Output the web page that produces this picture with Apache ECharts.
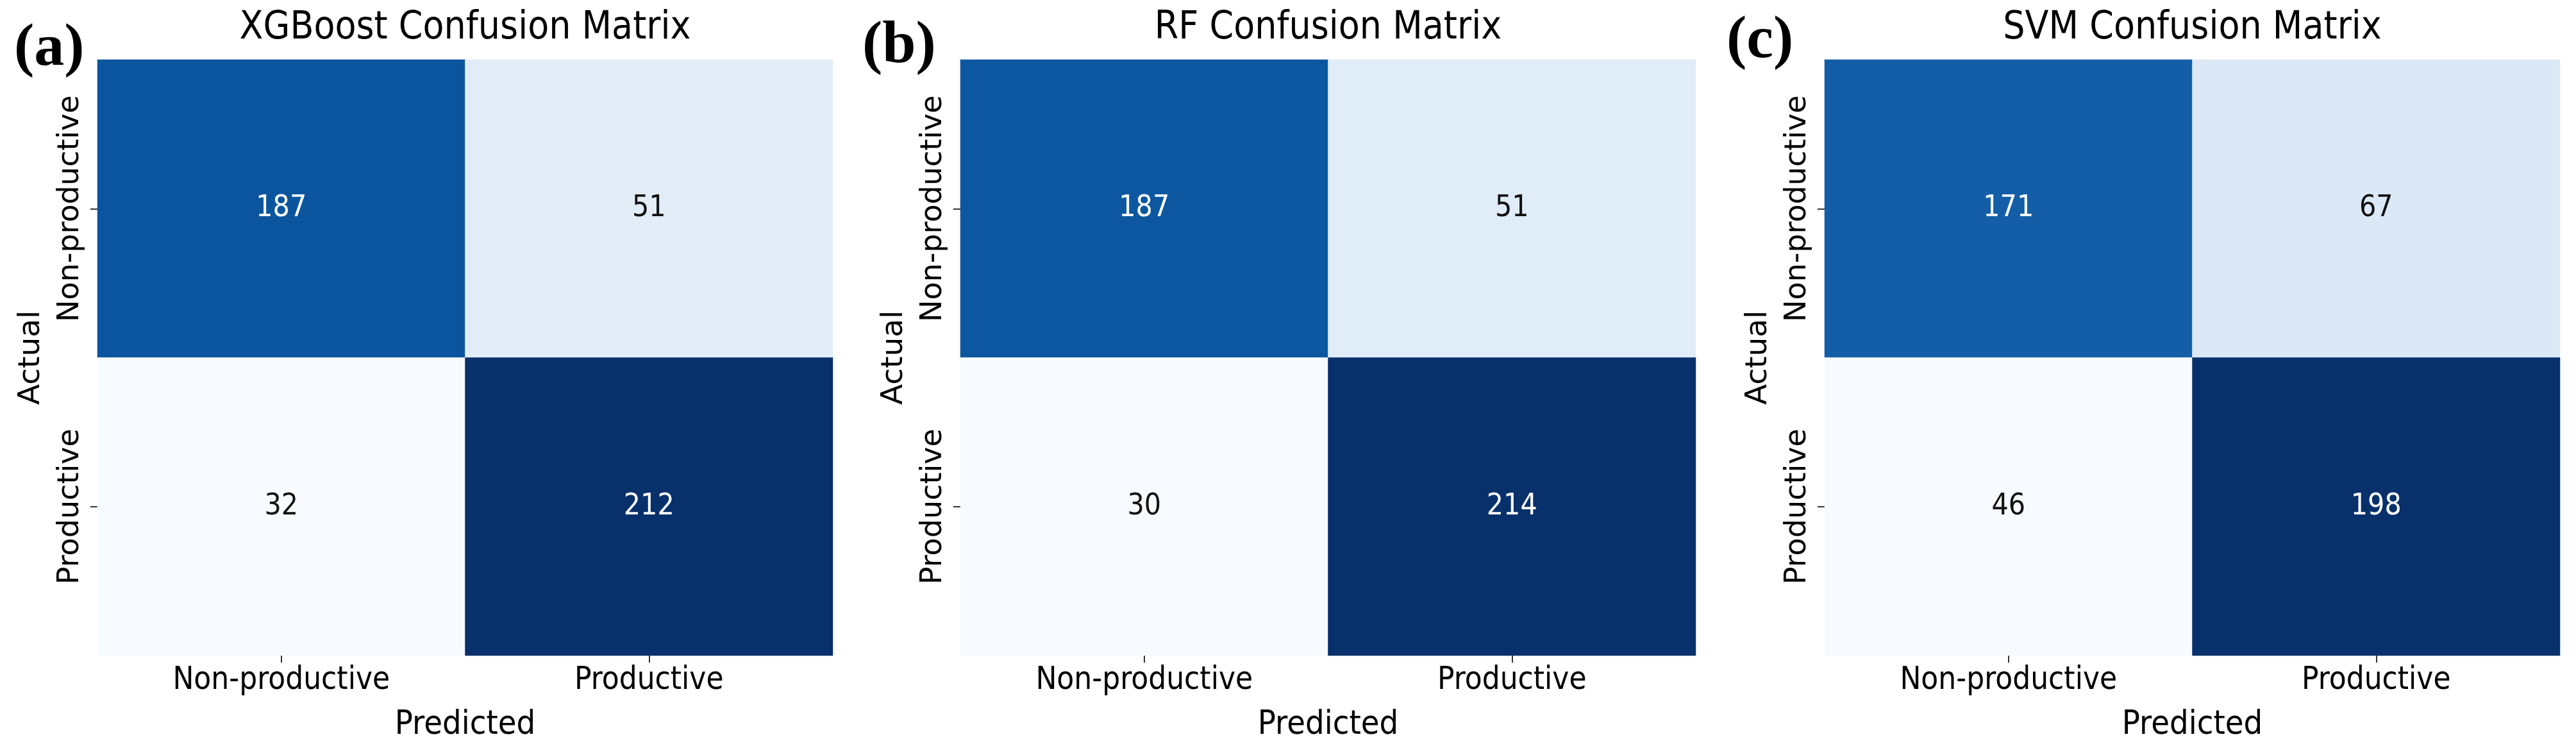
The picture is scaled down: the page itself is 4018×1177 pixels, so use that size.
<!DOCTYPE html>
<html>
<head>
<meta charset="utf-8">
<script src="https://cdn.jsdelivr.net/npm/echarts@6/dist/echarts.min.js"></script>
<style>
html,body{margin:0;padding:0;background:#fff;}
#chart{width:4018px;height:1177px;}
</style>
</head>
<body>
<div id="chart"></div>
<script>
// ---- data ----
const categories = ['Non-productive', 'Productive'];
const panelLabels = ['(a)', '(b)', '(c)'];
const panelTitles = ['XGBoost Confusion Matrix', 'RF Confusion Matrix', 'SVM Confusion Matrix'];
const xgbMatrix = [[187, 51], [32, 212]];
const rfMatrix = [[187, 51], [30, 214]];
const svmMatrix = [[171, 67], [46, 198]];
const xAxisName = 'Predicted';
const yAxisName = 'Actual';

const matrices = [xgbMatrix, rfMatrix, svmMatrix];

// ---- style ----
const BLUES = ['#f7fbff','#deebf7','#c6dbef','#9ecae1','#6baed6','#4292c6','#2171b5','#08519c','#08306b'];
const NARROW = '"Liberation Sans Narrow", "DejaVu Sans Condensed", sans-serif';
const WIDE = '"DejaVu Sans", Verdana, sans-serif';
const SERIF = '"Liberation Serif", "Times New Roman", serif';

const panelLeft = [152, 1498, 2846];
const panelW = 1147, panelTop = 93, panelH = 929;
const labelPos = [[22, 30], [1345, 26], [2693, 18]];

const grids = [], xAxes = [], yAxes = [], series = [], visualMaps = [], titles = [];

matrices.forEach((m, i) => {
  const flat = m.flat();
  const mn = Math.min(...flat), mx = Math.max(...flat);
  grids.push({left: panelLeft[i], top: panelTop, width: panelW, height: panelH, containLabel: false});
  xAxes.push({
    type: 'category', gridIndex: i, data: categories, position: 'bottom',
    axisLine: {show: false},
    axisTick: {show: true, alignWithLabel: true, length: 11, lineStyle: {color: '#333', width: 2}},
    axisLabel: {fontFamily: NARROW, fontSize: 49, color: '#000', margin: 15},
    splitLine: {show: false},
    name: xAxisName, nameLocation: 'middle', nameGap: 82,
    nameTextStyle: {fontFamily: NARROW, fontSize: 52, color: '#000'}
  });
  yAxes.push({
    type: 'category', gridIndex: i, data: categories, inverse: true,
    axisLine: {show: false},
    axisTick: {show: true, alignWithLabel: true, length: 11, lineStyle: {color: '#333', width: 2}},
    axisLabel: {fontFamily: WIDE, fontSize: 46, color: '#000', rotate: 90, margin: 19},
    splitLine: {show: false},
    name: yAxisName, nameLocation: 'middle', nameGap: 80, nameRotate: 90,
    nameTextStyle: {fontFamily: WIDE, fontSize: 47, color: '#000'}
  });
  const data = [];
  m.forEach((row, r) => row.forEach((v, c) => {
    const t = (v - mn) / (mx - mn);
    data.push({value: [c, r, v], label: {color: t > 0.5 ? '#ffffff' : '#111111'}});
  }));
  series.push({
    type: 'heatmap', xAxisIndex: i, yAxisIndex: i, data: data,
    label: {show: true, fontFamily: NARROW, fontSize: 46, formatter: p => String(p.value[2])},
    itemStyle: {borderWidth: 0},
    emphasis: {disabled: true}
  });
  visualMaps.push({
    type: 'continuous', show: false, seriesIndex: i, dimension: 2,
    min: mn, max: mx, inRange: {color: BLUES}
  });
  titles.push({
    text: panelTitles[i], left: panelLeft[i] + panelW / 2, top: 14, textAlign: 'center', padding: 0,
    textStyle: {fontFamily: NARROW, fontSize: 60, fontWeight: 'normal', color: '#000'}
  });
  titles.push({
    text: panelLabels[i], left: labelPos[i][0], top: labelPos[i][1], padding: 0,
    textStyle: {fontFamily: SERIF, fontSize: 94, fontWeight: 'bold', color: '#000'}
  });
});

const chart = echarts.init(document.getElementById('chart'), null, {renderer: 'canvas'});
chart.setOption({
  animation: false,
  backgroundColor: '#ffffff',
  title: titles,
  grid: grids,
  xAxis: xAxes,
  yAxis: yAxes,
  visualMap: visualMaps,
  series: series
});
</script>
</body>
</html>
